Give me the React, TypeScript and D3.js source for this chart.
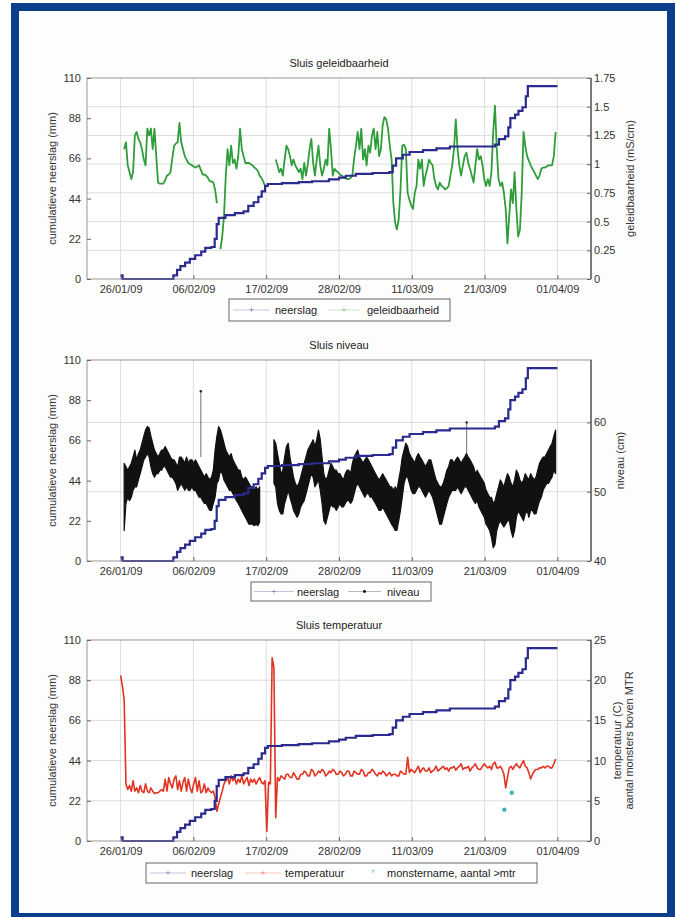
import React, { useEffect, useRef } from 'react';
import * as d3 from 'd3';

// x as: dagen na 26/01/09
const datumLabels = ['26/01/09', '06/02/09', '17/02/09', '28/02/09', '11/03/09', '21/03/09', '01/04/09'];

// cumulatieve neerslag (mm), trapjes
const neerslagDag = [0, 0.3, 7.85, 8.4, 8.9, 9.6, 10.3, 11.1, 12.0, 12.6, 13.5, 14.0, 14.3, 14.6, 15.6, 17.0, 18.3, 19.0, 19.8, 20.5, 21.0, 21.5, 21.9, 24.0, 26.5, 28.5, 31.0, 32.5, 33.5, 35.0, 37.5, 40.0, 40.5, 41.0, 42.0, 43.0, 45.0, 47.0, 49.0, 55.7, 56.3, 57.2, 57.7, 58.0, 58.7, 59.2, 59.8, 60.3, 60.6, 65.0];
const neerslagCum = [2, 0, 2, 5, 7, 9, 11, 13, 15, 17, 17.5, 22, 30, 33.5, 35, 36, 37, 40, 42, 45, 48, 51, 52, 52.5, 53, 53.5, 54.5, 55.5, 56.5, 57.5, 58, 58.5, 62, 66, 68, 69.5, 70.5, 71.5, 72.5, 73.5, 76.5, 78, 83, 88, 90, 92, 94, 100, 105.5, 105.5];

// geleidbaarheid (mS/cm), vaste meetstap
const geleidStart = 0.53;
const geleidStap = 0.2653;
const geleidbaarheid = [
  1.13, 1.19, 0.99, 0.93, 0.87, 0.93, 1.25, 1.28, 1.22, 1.19, 1.13, 1.04, 0.99, 1.31, 1.25, 1.31, 1.13, 1.31, 1.07, 0.84,
  0.83, 0.83, 0.83, 0.86, 0.90, 0.91, 0.93, 1.05, 1.16, 1.18, 1.19, 1.36, 1.19, 1.13, 1.07, 1.04, 1.01, 1.00, 0.99, 0.98,
  0.97, 0.98, 0.99, 0.95, 0.91, 0.91, 0.90, 0.88, 0.85, 0.85, 0.84, 0.78, 0.66, null, 0.26, 0.37, 0.55, 0.90, 1.13, 0.99,
  1.16, 1.01, 1.04, 0.96, 1.07, 1.31, 1.13, 1.07, 1.01, 1.01, 1.01, 1.00, 0.99, 0.97, 0.96, 0.94, 0.90, 0.88, 0.85, 0.81,
  null, null, null, null, null, 1.04, 0.99, 0.93, 0.96, 0.90, 1.04, 1.16, 1.13, 1.07, 0.99, 1.04, 0.99, 0.96, 0.93, 0.96,
  0.87, 1.01, 0.90, 1.00, 1.13, 1.22, 1.01, 0.90, 1.04, 1.16, 0.99, 0.90, 0.96, 1.04, 0.99, 1.31, 1.13, 0.90, 0.96, 0.94,
  0.93, 0.91, 0.90, 0.89, 0.88, 0.87, 0.87, 0.88, 0.90, 1.05, 1.16, 1.28, 1.13, 1.31, 1.04, 1.13, 0.99, 1.16, 1.10, 1.25,
  1.31, 1.13, 1.28, 1.07, 1.13, 1.34, 1.41, 1.39, 1.31, 1.16, 1.04, 0.66, 0.49, 0.43, 0.52, 0.78, 1.16, 1.17, 1.13, 0.75,
  0.69, 0.64, 0.61, 0.75, 0.81, 1.04, 0.96, 1.04, 0.81, 0.90, 0.96, 1.04, 1.01, 0.99, 0.87, 0.81, 0.78, 0.84, 0.81, 0.80,
  0.78, 0.79, 0.81, 0.90, 0.99, 1.13, 1.39, 1.13, 0.99, 0.90, 0.99, 1.07, 1.10, 1.01, 0.96, 0.90, 0.84, 0.99, 1.13, 1.04,
  1.07, 0.99, 0.87, 0.81, 0.87, 0.81, 0.93, 1.28, 1.51, 1.13, 0.87, 0.81, 0.84, 0.75, 0.61, 0.31, 0.55, 0.78, 0.66, 0.93,
  0.61, 0.37, 0.43, 0.75, 1.28, 1.16, 1.07, 1.03, 0.99, 0.96, 0.93, 0.90, 0.87, 0.90, 0.96, 0.97, 0.97, 0.98, 0.99, 0.99,
  0.99, 1.07, 1.28
];

// niveau (cm): onder- en bovenkant van de ruisband
const niveauStart = 0.53;
const niveauStap = 0.2653;
const niveauHoog = [
  54.1, 53.6, 53.1, 53.6, 54.1, 55.0, 56.0, 54.6, 55.5, 56.0, 57.0, 58.0, 58.9, 59.4, 59.2, 58.0, 57.0, 56.0, 55.5, 55.0,
  55.5, 56.0, 56.0, 56.5, 56.0, 55.5, 55.0, 54.6, 54.6, 54.1, 53.6, 55.0, 55.0, 54.6, 54.1, 55.0, 54.1, 54.6, 54.6, 54.1,
  54.6, 54.1, 53.6, 53.1, 52.6, 52.1, 52.6, 52.1, 51.7, 52.1, 53.1, 56.0, 58.0, 59.4, 58.9, 58.0, 57.0, 56.0, 55.5, 55.0,
  55.5, 54.6, 54.1, 53.6, 53.1, 53.1, 52.1, 51.7, 52.1, 51.7, 51.2, 50.7, 50.7, 50.2, 50.7, 50.2, 50.7,
  null, null, null, null, null, null, null,
  57.5, 57.0, 55.5, 54.1, 52.6, 53.1, 55.0, 56.5, 57.0, 55.0, 53.6, 52.1, 51.2, 50.7, 51.2, 52.1, 53.1, 54.1, 55.0, 56.0,
  56.5, 57.0, 57.5, 56.5, 57.5, 58.9, 57.5, 55.0, 52.6, 51.7, 52.1, 53.1, 54.1, 53.6, 53.1, 53.1, 52.6, 52.6, 52.1, 51.7,
  52.6, 53.1, 53.1, 52.6, 54.1, 55.0, 55.5, 56.0, 55.0, 54.6, 54.1, 54.6, 55.0, 54.6, 54.1, 53.6, 53.1, 52.6, 52.1, 51.7,
  52.1, 52.6, 52.1, 51.7, 51.2, 50.7, 50.7, 50.2, 50.7, 50.2, 51.7, 53.1, 55.0, 56.0, 57.0, 56.5, 55.5, 55.0, 54.6, 54.1,
  55.0, 55.5, 55.0, 54.6, 54.1, 53.6, 54.1, 54.6, 54.6, 53.6, 52.6, 51.7, 51.2, 50.7, 50.7, 51.2, 52.1, 53.1, 53.6, 54.6,
  54.6, 54.1, 54.6, 55.0, 54.6, 54.1, 54.6, 55.0, 55.5, 55.0, 54.6, 54.1, 53.6, 52.6, 53.1, 52.6, 52.1, 51.7, 51.2, 50.2,
  49.7, 49.2, 49.2, 48.3, 48.7, 49.7, 50.7, 51.7, 51.2, 50.7, 51.7, 52.6, 52.1, 51.2, 50.7, 51.7, 53.1, 52.6, 51.7, 51.2,
  51.7, 52.6, 52.1, 51.7, 52.6, 52.1, 51.7, 52.1, 53.1, 54.1, 54.6, 55.0, 55.0, 55.5, 56.0, 56.5, 57.0, 58.0, 58.9
];
const niveauLaag = [
  44.4, 48.3, 49.2, 48.7, 49.2, 50.2, 50.7, 50.7, 51.7, 52.6, 53.6, 54.6, 55.0, 55.5, 55.0, 53.6, 52.6, 52.1, 52.6, 52.6,
  53.1, 53.1, 53.6, 53.6, 53.1, 52.6, 52.1, 52.1, 51.7, 51.2, 50.2, 50.7, 51.2, 50.7, 50.2, 50.7, 50.2, 50.2, 50.7, 50.2,
  50.2, 49.7, 49.2, 49.2, 48.7, 48.3, 48.3, 47.8, 47.3, 47.3, 48.3, 49.2, 51.2, 51.7, 53.1, 52.6, 51.7, 51.2, 50.7, 50.2,
  50.2, 49.7, 49.2, 48.7, 48.3, 47.8, 47.3, 46.8, 46.3, 45.8, 45.3, 45.3, 45.3, 45.1, 45.3, 45.1, 45.6,
  null, null, null, null, null, null, null,
  51.2, 50.7, 48.3, 47.3, 46.8, 46.8, 48.3, 49.2, 50.2, 49.2, 48.3, 47.3, 46.8, 46.3, 46.8, 47.8, 48.3, 48.7, 49.7, 50.7,
  51.7, 52.6, 52.1, 50.7, 51.2, 51.7, 50.2, 48.3, 45.8, 45.3, 46.3, 47.3, 48.3, 47.8, 47.8, 47.3, 47.8, 48.3, 47.8, 47.8,
  48.3, 48.7, 48.7, 48.3, 48.7, 49.7, 50.7, 51.2, 50.7, 50.2, 49.7, 49.2, 49.7, 49.7, 49.2, 49.2, 48.7, 48.3, 47.8, 47.3,
  47.3, 47.8, 47.3, 46.8, 46.3, 45.8, 45.3, 44.9, 44.4, 44.4, 45.8, 47.3, 49.2, 51.2, 52.1, 52.1, 51.2, 50.2, 49.7, 49.7,
  50.2, 50.7, 50.7, 50.2, 49.7, 49.2, 49.7, 50.2, 49.7, 49.2, 48.3, 47.3, 46.3, 45.3, 45.3, 46.3, 47.3, 48.3, 49.2, 49.7,
  50.2, 50.2, 50.2, 50.7, 50.2, 49.7, 50.2, 50.7, 50.7, 50.2, 49.7, 49.2, 48.7, 48.3, 48.7, 47.8, 47.3, 46.8, 46.3, 45.3,
  44.9, 44.4, 43.4, 41.9, 42.4, 44.4, 45.3, 45.8, 45.3, 44.9, 45.3, 45.8, 45.8, 44.4, 43.4, 44.4, 46.3, 47.3, 46.8, 46.3,
  45.8, 46.8, 47.3, 46.3, 47.3, 47.3, 46.8, 46.8, 47.8, 48.7, 49.2, 50.2, 50.7, 51.2, 51.2, 51.7, 52.1, 53.1, 52.6
];
const niveauPiekDag = [11.94, 51.5];
const niveauPiek = [64.5, 60.0];

// temperatuur (C), vaste meetstap
const tempStart = 0;
const tempStap = 0.2653;
const temperatuur = [
  20.6, 19.3, 17.6, 7.1, 6.4, 6.9, 6.2, 7.5, 6.2, 6.6, 6.0, 6.9, 6.2, 6.0, 7.1, 6.2, 6.0, 6.6, 6.2, 5.9,
  6.0, 6.0, 6.2, 6.4, 6.2, 7.7, 6.2, 7.9, 7.1, 6.6, 7.7, 8.1, 6.4, 7.5, 6.2, 7.3, 7.9, 6.2, 7.7, 6.6,
  6.0, 7.1, 7.9, 6.2, 7.5, 6.0, 6.2, 7.1, 6.0, 6.6, 6.2, 6.0, 6.2, 5.4, 3.7, 4.6, 5.4, 6.2, 7.1, 7.5,
  7.9, 7.1, 8.1, 7.5, 7.9, 7.1, 7.7, 7.3, 8.1, 7.1, 7.5, 7.9, 6.9, 7.7, 7.3, 7.7, 7.1, 7.5, 7.9, 7.3,
  7.1, 7.5, 1.2, 7.3, 7.1, 22.8, 21.6, 2.9, 7.9, 7.5, 8.1, 7.9, 7.7, 8.3, 8.3, 7.9, 7.9, 8.5, 8.1, 7.7,
  7.7, 8.3, 8.3, 8.7, 8.5, 8.1, 8.1, 8.9, 8.7, 8.1, 8.3, 8.7, 8.5, 8.9, 8.7, 8.1, 8.3, 8.7, 8.5, 8.9,
  8.7, 8.3, 8.3, 8.7, 8.5, 8.1, 8.3, 8.7, 8.7, 8.1, 8.1, 8.7, 8.5, 8.3, 8.3, 8.9, 8.7, 8.1, 8.1, 8.5,
  8.5, 8.9, 8.7, 8.3, 8.1, 8.5, 8.3, 8.7, 8.5, 8.1, 8.3, 8.5, 8.1, 8.3, 8.3, 8.1, 8.1, 8.7, 8.5, 8.3,
  8.3, 10.4, 8.5, 8.9, 8.7, 8.5, 8.9, 9.3, 8.5, 8.9, 9.1, 8.7, 8.7, 9.1, 8.5, 8.7, 8.9, 9.3, 8.7, 8.9,
  9.1, 9.3, 8.9, 9.1, 8.7, 9.1, 9.1, 9.3, 8.8, 9.1, 9.3, 9.6, 8.9, 9.1, 9.1, 9.3, 8.7, 9.1, 9.3, 9.6,
  9.1, 8.9, 8.9, 9.3, 9.6, 9.3, 9.1, 9.3, 8.9, 9.6, 9.8, 9.1, 9.1, 9.3, 8.9, 8.3, 6.6, 7.9, 9.1, 9.3,
  8.9, 9.3, 9.6, 9.3, 9.1, 9.6, 10.0, 9.3, 9.1, 8.5, 7.7, 8.3, 8.7, 8.9, 8.9, 9.1, 9.1, 9.3, 9.1, 9.3,
  9.3, 9.1, 9.1, 9.6, 10.2
];

// monstername, aantal boven MTR
const monsterDag = [57.1, 58.2];
const monsterAantal = [3.9, 6.0];

const NAVY = '#2b2a8e';
const GREEN = '#2f9e3a';
const RED = '#e23321';
const CYAN = '#3bb7b4';
const FONT = '"Liberation Sans", Arial, sans-serif';

const X0 = 87;
const X1 = 591;
const PH = 201;

function App() {
  const ref = useRef<SVGSVGElement | null>(null);

  useEffect(() => {
    const svg = d3.select(ref.current);
    svg.selectAll('*').remove();

    // blauwe rand
    svg.append('rect')
      .attr('x', 15).attr('y', 7)
      .attr('width', 656).attr('height', 910)
      .attr('fill', '#fdfdfd')
      .attr('stroke', '#0b3f8c')
      .attr('stroke-width', 8);

    const x = d3.scaleLinear().domain([-5, 70]).range([X0, X1]);
    const tickDagen = d3.range(7).map((i) => (i * 65) / 6);

    const panels = [
      {
        top: 78, title: 'Sluis geleidbaarheid', yR: [0, 1.75], rTicks: d3.range(0, 1.76, 0.25),
        rLabel: ['geleidbaarheid (mS/cm)'], rLabelX: [630],
        legend: { x: 229, y: 299, w: 221, h: 22, items: [
          { label: 'neerslag', color: NAVY, line: [233, 270], mark: '+', tx: 275 },
          { label: 'geleidbaarheid', color: GREEN, line: [328, 360], mark: '+', tx: 367 },
        ] },
      },
      {
        top: 360, title: 'Sluis niveau', yR: [40, 69], rTicks: [40, 50, 60],
        rLabel: ['niveau (cm)'], rLabelX: [620],
        legend: { x: 251, y: 582, w: 180, h: 19, items: [
          { label: 'neerslag', color: NAVY, line: [254, 294], mark: '+', tx: 297 },
          { label: 'niveau', color: '#000', line: [348, 381], mark: '.', tx: 387 },
        ] },
      },
      {
        top: 640, title: 'Sluis temperatuur', yR: [0, 25], rTicks: [0, 5, 10, 15, 20, 25],
        rLabel: ['temperatuur (C)', 'aantal monsters boven MTR'], rLabelX: [617, 629],
        legend: { x: 146, y: 863, w: 391, h: 20, items: [
          { label: 'neerslag', color: NAVY, line: [150, 186], mark: '+', tx: 191 },
          { label: 'temperatuur', color: RED, line: [245, 281], mark: '+', tx: 285 },
          { label: 'monstername, aantal >mtr', color: CYAN, line: null, mark: '*', tx: 387 },
        ] },
      },
    ];

    panels.forEach((p, pi) => {
      const g = svg.append('g');
      const yL = d3.scaleLinear().domain([0, 110]).range([p.top + PH, p.top]);
      const yR = d3.scaleLinear().domain(p.yR).range([p.top + PH, p.top]);

      g.append('rect')
        .attr('x', X0).attr('y', p.top)
        .attr('width', X1 - X0).attr('height', PH)
        .attr('fill', '#fff');

      // grid
      g.append('g')
        .selectAll('line')
        .data(tickDagen)
        .enter()
        .append('line')
        .attr('x1', (d) => x(d)).attr('x2', (d) => x(d))
        .attr('y1', p.top).attr('y2', p.top + PH)
        .attr('stroke', '#d4d4d4').attr('stroke-width', 0.8);
      g.append('g')
        .selectAll('line')
        .data(p.rTicks.filter((t) => t > p.yR[0] && t < p.yR[1]))
        .enter()
        .append('line')
        .attr('x1', X0).attr('x2', X1)
        .attr('y1', (d) => yR(d)).attr('y2', (d) => yR(d))
        .attr('stroke', '#d4d4d4').attr('stroke-width', 0.8);

      // series
      if (pi === 0) {
        const line = d3.line<number | null>()
          .defined((d) => d != null)
          .x((d, i) => x(geleidStart + i * geleidStap))
          .y((d) => yR(d as number));
        g.append('path')
          .attr('d', line(geleidbaarheid))
          .attr('fill', 'none').attr('stroke', GREEN)
          .attr('stroke-width', 1.8).attr('stroke-linejoin', 'round');
      }
      if (pi === 1) {
        const idx = d3.range(niveauHoog.length);
        const area = d3.area<number>()
          .defined((i) => niveauHoog[i] != null)
          .x((i) => x(niveauStart + i * niveauStap))
          .y0((i) => yR(niveauLaag[i] as number))
          .y1((i) => yR(niveauHoog[i] as number));
        g.append('path')
          .attr('d', area(idx))
          .attr('fill', '#111').attr('stroke', '#111')
          .attr('stroke-width', 1.2).attr('stroke-linejoin', 'round');
        niveauPiek.forEach((v, i) => {
          g.append('line')
            .attr('x1', x(niveauPiekDag[i])).attr('x2', x(niveauPiekDag[i]))
            .attr('y1', yR(v)).attr('y2', yR(55))
            .attr('stroke', '#333').attr('stroke-width', 0.7);
          g.append('circle')
            .attr('cx', x(niveauPiekDag[i])).attr('cy', yR(v))
            .attr('r', 1.2).attr('fill', '#222');
        });
      }
      if (pi === 2) {
        const line = d3.line<number>()
          .x((d, i) => x(tempStart + i * tempStap))
          .y((d) => yR(d));
        g.append('path')
          .attr('d', line(temperatuur))
          .attr('fill', 'none').attr('stroke', RED)
          .attr('stroke-width', 1.6).attr('stroke-linejoin', 'round');
        g.selectAll('.monster')
          .data(monsterAantal)
          .enter()
          .append('circle')
          .attr('cx', (d, i) => x(monsterDag[i]))
          .attr('cy', (d) => yR(d))
          .attr('r', 2.2).attr('fill', CYAN);
      }

      const cum = d3.line<number>()
        .curve(d3.curveStepAfter)
        .x((d, i) => x(neerslagDag[i]))
        .y((d) => yL(d));
      g.append('path')
        .attr('d', cum(neerslagCum))
        .attr('fill', 'none').attr('stroke', NAVY)
        .attr('stroke-width', 2.2);

      // box
      g.append('rect')
        .attr('x', X0).attr('y', p.top)
        .attr('width', X1 - X0).attr('height', PH)
        .attr('fill', 'none').attr('stroke', '#8c8c8c').attr('stroke-width', 0.9);
      g.append('line')
        .attr('x1', X1).attr('x2', X1)
        .attr('y1', p.top).attr('y2', p.top + PH)
        .attr('stroke', '#3a3a3a').attr('stroke-width', 1.1);

      const styleAxis = (a: d3.Selection<SVGGElement, unknown, null, undefined>) => {
        a.select('.domain').remove();
        a.selectAll('.tick line').attr('stroke', '#666');
        a.selectAll('.tick text')
          .attr('font-family', FONT).attr('font-size', 11).attr('fill', '#333');
      };

      g.append('g')
        .attr('transform', `translate(${X0},0)`)
        .call(d3.axisLeft(yL).tickValues([0, 22, 44, 66, 88, 110]).tickSize(-4).tickPadding(6))
        .call(styleAxis);
      g.append('g')
        .attr('transform', `translate(${X1},0)`)
        .call(d3.axisRight(yR).tickValues(p.rTicks)
          .tickFormat((d) => String(+(+d).toFixed(2))).tickSize(-4).tickPadding(3))
        .call(styleAxis);
      g.append('g')
        .attr('transform', `translate(0,${p.top + PH})`)
        .call(d3.axisBottom(x).tickValues(tickDagen)
          .tickFormat((d, i) => datumLabels[i]).tickSize(-4).tickPadding(6))
        .call(styleAxis);

      // titels en labels
      g.append('text')
        .attr('x', (X0 + X1) / 2).attr('y', p.top - 11)
        .attr('text-anchor', 'middle')
        .attr('font-family', FONT).attr('font-size', 11).attr('fill', '#222')
        .text(p.title);
      g.append('text')
        .attr('transform', `translate(52,${p.top + PH / 2}) rotate(-90)`)
        .attr('text-anchor', 'middle').attr('dominant-baseline', 'central')
        .attr('font-family', FONT).attr('font-size', 11).attr('fill', '#333')
        .text('cumulatieve neerslag (mm)');
      p.rLabel.forEach((t, i) => {
        g.append('text')
          .attr('transform', `translate(${p.rLabelX[i]},${p.top + PH / 2}) rotate(-90)`)
          .attr('text-anchor', 'middle').attr('dominant-baseline', 'central')
          .attr('font-family', FONT).attr('font-size', 11).attr('fill', '#333')
          .text(t);
      });

      // legenda
      const L = p.legend;
      const lg = g.append('g');
      lg.append('rect')
        .attr('x', L.x).attr('y', L.y).attr('width', L.w).attr('height', L.h)
        .attr('fill', '#fff').attr('stroke', '#555').attr('stroke-width', 0.9);
      const cy = L.y + L.h / 2;
      L.items.forEach((it) => {
        if (it.line) {
          lg.append('line')
            .attr('x1', it.line[0]).attr('x2', it.line[1])
            .attr('y1', cy).attr('y2', cy)
            .attr('stroke', it.color).attr('stroke-opacity', 0.35).attr('stroke-width', 0.8);
        }
        const mx = it.line ? (it.line[0] + it.line[1]) / 2 : it.tx - 14;
        if (it.mark === '.') {
          lg.append('circle').attr('cx', mx).attr('cy', cy).attr('r', 1.4).attr('fill', it.color);
        } else {
          lg.append('text')
            .attr('x', mx).attr('y', cy)
            .attr('text-anchor', 'middle').attr('dominant-baseline', 'central')
            .attr('font-family', FONT).attr('font-size', it.mark === '*' ? 10 : 9)
            .attr('fill', it.color).attr('fill-opacity', 0.6)
            .text(it.mark);
        }
        lg.append('text')
          .attr('x', it.tx).attr('y', cy)
          .attr('dominant-baseline', 'central')
          .attr('font-family', FONT).attr('font-size', 11).attr('fill', '#222')
          .text(it.label);
      });
    });
  }, []);

  return (
    <svg
      ref={ref}
      width={676}
      height={917}
      style={{ position: 'absolute', left: 0, top: 0, background: '#fff' }}
    />
  );
}

export default App;
